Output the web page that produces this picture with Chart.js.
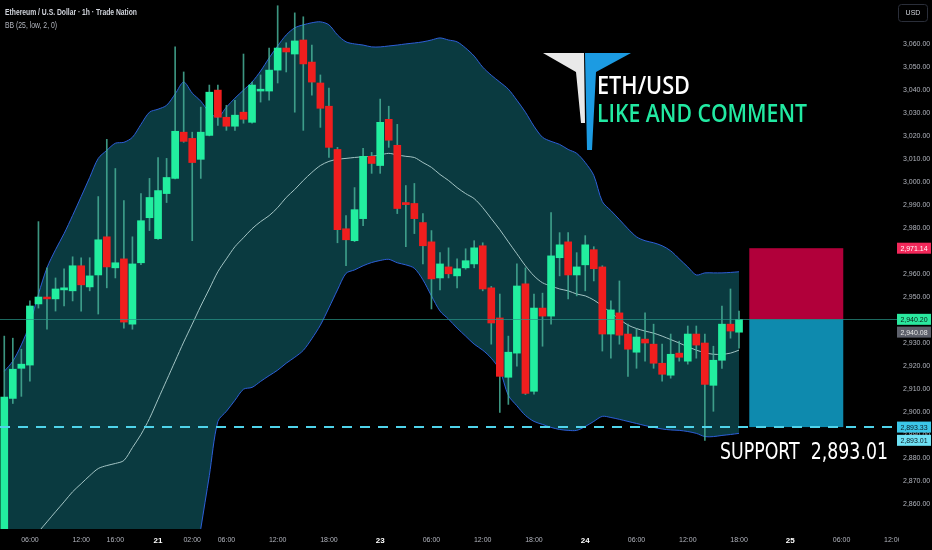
<!DOCTYPE html>
<html>
<head>
<meta charset="utf-8">
<title>ETH/USD 1h</title>
<script src="https://cdn.jsdelivr.net/npm/chart.js@4.4.1/dist/chart.umd.min.js"></script>
<style>
  html, body { margin: 0; padding: 0; background: #000; }
  #wrap { width: 932px; height: 550px; }
</style>
</head>
<body>
<div id="wrap"><canvas id="ethChart" width="932" height="550"></canvas></div>
<script>
// 1h candles
var open = [2842, 2905.8, 2918.9, 2920.3, 2946.9, 2949.9, 2949.1, 2953.0, 2952.6, 2963.5,
  2954.3, 2959.5, 2976.1, 2962.6, 2966.5, 2938.1, 2964.8, 2984.4, 2975.3, 2994.9,
  3001.5, 3021.6, 3018.9, 3009.8, 3020.2, 3039.9, 3028.1, 3024.2, 3030.3, 3025.9,
  3039.5, 3039.5, 3048.6, 3058.2, 3055.6, 3061.7, 3052.1, 3043.0, 3032.9, 3014.1,
  2979.6, 2974.4, 2984.0, 3011.1, 3007.1, 3027.2, 3015.9, 2991.0, 2990.6, 2982.3,
  2973.9, 2958.2, 2963.0, 2959.1, 2962.6, 2964.3, 2972.2, 2953.9, 2940.8, 2915.0,
  2925.5, 2955.6, 2908.9, 2945.1, 2941.6, 2967.0, 2973.9, 2959.5, 2963.9, 2970.5,
  2963.0, 2933.8, 2943.0, 2933.8, 2925.9, 2931.6, 2929.4, 2921.1, 2915.9, 2925.5,
  2922.0, 2933.8, 2929.9, 2911.5, 2922.4, 2938.1, 2934.6];
var high = [2932.9, 2932.0, 2927.2, 2948.2, 2982.7, 2962.6, 2958.2, 2962.2, 2967.4, 2967.0,
  2967.0, 2993.6, 3018.5, 3005.8, 2991.9, 2976.1, 2994.9, 3001.5, 3010.6, 3010.2,
  3058.7, 3047.8, 3021.6, 3032.5, 3042.1, 3042.1, 3033.3, 3035.5, 3055.6, 3043.4,
  3046.5, 3058.2, 3076.6, 3060.5, 3073.5, 3071.8, 3059.5, 3046.5, 3040.8, 3015.0,
  2985.3, 2997.5, 3014.6, 3012.8, 3036.0, 3032.9, 3025.0, 2998.4, 2999.3, 2986.2,
  2978.8, 2969.2, 2971.3, 2966.5, 2970.9, 2974.4, 2973.5, 2954.5, 2951.2, 2932.9,
  2964.3, 2962.6, 2951.2, 2951.6, 2986.6, 2977.9, 2977.9, 2969.2, 2976.6, 2971.8,
  2963.5, 2948.2, 2956.9, 2938.1, 2935.9, 2943.0, 2938.1, 2929.4, 2933.8, 2930.7,
  2937.3, 2937.3, 2933.8, 2928.5, 2946.0, 2953.4, 2943.8];
var low = [2838, 2903.6, 2906.7, 2913.3, 2945.1, 2935.9, 2943.8, 2946.0, 2948.2, 2943.8,
  2952.6, 2942.5, 2953.9, 2958.2, 2936.4, 2935.9, 2964.0, 2978.8, 2975.0, 2991.0,
  3001.3, 3017.2, 2974.4, 3001.5, 3020.0, 3024.6, 3022.4, 3022.4, 3025.5, 3025.5,
  3034.7, 3035.5, 3043.0, 3047.8, 3030.3, 3022.4, 3037.7, 3023.7, 3010.6, 2973.5,
  2963.5, 2974.0, 2980.9, 3003.7, 3003.7, 3015.0, 2986.2, 2971.8, 2977.5, 2964.3,
  2944.7, 2953.0, 2958.2, 2953.9, 2962.0, 2962.6, 2952.6, 2929.4, 2899.7, 2903.2,
  2919.8, 2907.5, 2907.6, 2928.5, 2938.1, 2959.1, 2949.1, 2950.4, 2952.6, 2956.9,
  2926.4, 2923.3, 2929.4, 2915.4, 2918.9, 2922.0, 2918.9, 2913.3, 2914.6, 2922.0,
  2920.7, 2923.3, 2887.5, 2900.2, 2918.9, 2932.0, 2927.7];
var close = [2906.4, 2918.5, 2920.7, 2946.0, 2949.9, 2949.1, 2953.4, 2953.9, 2963.5, 2955.2,
  2959.1, 2974.8, 2963.0, 2964.8, 2939.0, 2964.3, 2983.1, 2993.2, 2996.2, 3001.9,
  3022.0, 3017.6, 3008.4, 3021.6, 3039.0, 3028.1, 3024.2, 3029.0, 3027.2, 3042.1,
  3040.3, 3048.6, 3058.2, 3056.5, 3061.3, 3051.3, 3043.4, 3032.0, 3015.0, 2979.2,
  2974.8, 2987.9, 3011.1, 3008.0, 3025.9, 3018.1, 2988.4, 2990.1, 2984.0, 2972.2,
  2957.8, 2964.3, 2960.0, 2962.2, 2965.7, 2971.3, 2953.4, 2938.6, 2915.4, 2925.9,
  2954.7, 2908.0, 2945.1, 2941.6, 2967.8, 2972.6, 2959.5, 2963.0, 2972.6, 2962.2,
  2933.8, 2944.3, 2933.3, 2927.2, 2932.5, 2929.9, 2921.1, 2916.3, 2925.0, 2923.7,
  2933.8, 2929.0, 2911.9, 2922.4, 2938.1, 2935.1, 2940.2];

// Bollinger bands BB(25, low, 2, 0)
var bbUpper = [2917.6, 2922.0, 2929.1, 2938.3, 2951.2, 2962.6, 2970.5, 2977.5, 2985.4, 2993.6,
  3001.9, 3010.2, 3013.7, 3016.8, 3017.2, 3019.4, 3025.0, 3030.3, 3031.6, 3033.3,
  3038.2, 3043.4, 3038.6, 3035.1, 3030.3, 3028.1, 3032.5, 3036.4, 3039.9, 3043.4,
  3048.2, 3053.9, 3059.1, 3063.9, 3067.0, 3068.3, 3069.2, 3069.6, 3068.3, 3063.9,
  3060.9, 3060.0, 3059.5, 3058.7, 3058.7, 3059.1, 3059.5, 3060.0, 3060.4, 3060.9,
  3061.7, 3062.6, 3061.7, 3060.9, 3058.2, 3054.7, 3049.9, 3046.4, 3043.4, 3040.3,
  3035.5, 3030.3, 3024.2, 3019.4, 3017.6, 3016.3, 3014.1, 3012.4, 3008.4, 3002.8,
  2991.4, 2987.5, 2983.6, 2979.6, 2976.1, 2974.4, 2973.5, 2972.2, 2970.0, 2966.5,
  2963.0, 2959.5, 2960.4, 2960.4, 2960.4, 2960.6, 2960.9];
var bbBasis = [2822, 2829, 2836, 2843, 2847.7, 2852.1, 2856.5, 2860.8, 2865.2, 2868.7,
  2872.2, 2875.3, 2876.6, 2877.5, 2878.8, 2884.4, 2890.1, 2897.1, 2905.4, 2913.7,
  2922.0, 2930.3, 2938.1, 2946.0, 2953.4, 2960.9, 2966.5, 2971.8, 2975.7, 2979.6,
  2982.7, 2985.3, 2988.8, 2993.2, 2996.7, 3000.6, 3004.1, 3007.1, 3008.9, 3009.8,
  3010.2, 3010.6, 3010.9, 3011.1, 3011.7, 3012.4, 3011.7, 3011.1, 3010.6, 3008.4,
  3006.3, 3003.2, 3000.6, 2997.5, 2994.9, 2992.7, 2988.8, 2984.0, 2979.2, 2973.9,
  2968.7, 2963.5, 2959.1, 2956.1, 2954.7, 2953.4, 2952.6, 2951.2, 2950.4, 2948.6,
  2946.0, 2943.0, 2940.3, 2937.7, 2936.2, 2935.1, 2934.2, 2932.9, 2931.4, 2929.9,
  2928.3, 2926.8, 2925.7, 2925.0, 2925.0, 2925.5, 2926.8];
var bbLower = [2760, 2762, 2764, 2766, 2768, 2770, 2772, 2774, 2776, 2778,
  2780, 2782, 2784, 2786, 2788, 2790, 2792, 2795, 2798, 2802, 2806, 2812, 2826,
  2849.1, 2872.2, 2895.8, 2900.2, 2905.0, 2909.8, 2910.6, 2913.2, 2915.7, 2918.1,
  2921.1, 2923.7, 2926.7, 2931.8, 2937.7, 2945.2, 2953.0, 2960.2, 2961.7, 2963.5,
  2964.9, 2965.8, 2966.3, 2964.8, 2963.9, 2962.4, 2957.4, 2950.4, 2943.8, 2940.3,
  2936.4, 2932.9, 2929.4, 2926.8, 2923.3, 2918.1, 2907.1, 2902.6, 2898.4, 2895.8,
  2894.5, 2893.2, 2892.3, 2891.9, 2891.9, 2893.6, 2895.8, 2898.0, 2897.5, 2896.7,
  2895.8, 2894.9, 2894.0, 2893.2, 2892.5, 2892.1, 2891.9, 2891.4, 2890.6, 2889.2,
  2889.2, 2889.7, 2890.1, 2890.6];

// time axis: which hourly slot gets which label
var xTickIndex = [3, 9, 13, 18, 22, 26, 32, 38, 44, 50, 56, 62, 68, 74, 80, 86, 92, 98];
var xTickText = ['06:00', '12:00', '16:00', '21', '02:00', '06:00', '12:00', '18:00', '23',
  '06:00', '12:00', '18:00', '24', '06:00', '12:00', '18:00', '25', '06:00'];
var dayLabels = ['21', '23', '24', '25'];
var yTicks = [2860, 2870, 2880, 2890, 2900, 2910, 2920, 2930, 2940, 2950, 2960, 2970, 2980,
  2990, 3000, 3010, 3020, 3030, 3040, 3050, 3060];

// price levels
var lastPrice = 2940.20;
var prevPrice = 2940.08;
var targetPrice = 2971.14;
var supportLine = 2893.33;
var supportPrice = 2893.01;

var slotCount = 103;
var yMin = 2849, yMax = 3079.1;
var boxStart = 87.2, boxEnd = 98.2;   // in hourly slots

var GREEN = '#22ee9f', RED = '#f01e1e';
var axisFont = "'Liberation Sans', sans-serif";

var slots = [];
for (var i = 0; i < slotCount; i++) slots.push(i);

function fmt(v) {
  return v.toLocaleString('en-US', { minimumFractionDigits: 2, maximumFractionDigits: 2 });
}
function tickLabel(i) {
  var k = xTickIndex.indexOf(i);
  return k < 0 ? '' : xTickText[k];
}

var overlay = {
  id: 'overlay',
  afterDatasetsDraw: function (chart) {
    var ctx = chart.ctx, x = chart.scales.x, y = chart.scales.y, a = chart.chartArea;
    var bx0 = x.getPixelForValue(boxStart), bx1 = x.getPixelForValue(boxEnd);
    var yT = y.getPixelForValue(targetPrice), yL = y.getPixelForValue(lastPrice), yS = y.getPixelForValue(supportLine);
    ctx.save();
    // long position box
    ctx.fillStyle = '#b1003a';
    ctx.fillRect(bx0, yT, bx1 - bx0, yL - yT);
    ctx.fillStyle = '#0e8aae';
    ctx.fillRect(bx0, yL, bx1 - bx0, yS - yL);
    // last price line
    ctx.strokeStyle = 'rgba(40,150,135,0.7)';
    ctx.lineWidth = 1;
    ctx.beginPath();
    ctx.moveTo(a.left, Math.round(yL) + 0.5);
    ctx.lineTo(a.right + 17, Math.round(yL) + 0.5);
    ctx.stroke();
    // support dashed line
    ctx.strokeStyle = '#4fd3ea';
    ctx.lineWidth = 2;
    ctx.setLineDash([10, 8]);
    ctx.beginPath();
    ctx.moveTo(a.left, yS);
    ctx.lineTo(a.right + 15, yS);
    ctx.stroke();
    ctx.setLineDash([]);
    // support text
    ctx.fillStyle = '#ffffff';
    ctx.font = "23px 'DejaVu Sans', sans-serif";
    ctx.textBaseline = 'alphabetic';
    ctx.fillText('SUPPORT  ' + fmt(supportPrice), 720, 459, 168);
    ctx.restore();
  },
  afterDraw: function (chart) {
    var ctx = chart.ctx, x = chart.scales.x, y = chart.scales.y, a = chart.chartArea;
    ctx.save();
    // header
    ctx.textBaseline = 'middle';
    ctx.fillStyle = '#d1d4dc';
    ctx.font = "bold 9px 'Liberation Sans', sans-serif";
    ctx.fillText('Ethereum / U.S. Dollar \u00b7 1h \u00b7 Trade Nation', 5, 13, 132);
    ctx.fillStyle = '#b2b5be';
    ctx.font = "9px 'Liberation Sans', sans-serif";
    ctx.fillText('BB (25, low, 2, 0)', 5, 26, 52);

    // logo
    ctx.fillStyle = '#e9e9e9';
    ctx.beginPath();
    ctx.moveTo(543, 53); ctx.lineTo(584, 53); ctx.lineTo(585, 123); ctx.lineTo(581, 123); ctx.lineTo(576, 72);
    ctx.closePath(); ctx.fill();
    ctx.fillStyle = '#1c9be2';
    ctx.beginPath();
    ctx.moveTo(585, 53); ctx.lineTo(631, 53); ctx.lineTo(596, 72); ctx.lineTo(592, 150); ctx.lineTo(587, 150);
    ctx.closePath(); ctx.fill();
    ctx.textBaseline = 'alphabetic';
    ctx.fillStyle = '#ffffff';
    ctx.font = "600 26px 'Open Sans', sans-serif";
    ctx.fillText('ETH/USD', 597, 94, 93);
    ctx.fillStyle = '#22e9a2';
    ctx.font = "600 25px 'Open Sans', sans-serif";
    ctx.fillText('LIKE AND COMMENT', 597, 122, 210);

    // USD button
    ctx.strokeStyle = '#2a2e39';
    ctx.lineWidth = 1;
    ctx.beginPath();
    ctx.roundRect(898.5, 4.5, 29, 17, 3);
    ctx.stroke();
    ctx.fillStyle = '#d1d4dc';
    ctx.font = '7px ' + axisFont;
    ctx.textAlign = 'center';
    ctx.textBaseline = 'middle';
    ctx.fillText('USD', 913, 13);

    // price tags on the right scale
    var tags = [
      { v: targetPrice, bg: '#f2285a', fg: '#ffffff', dy: 0 },
      { v: lastPrice, bg: '#2ae89e', fg: '#0b1f18', dy: 0 },
      { v: prevPrice, bg: '#5d606b', fg: '#e6e6e6', dy: 12.5 },
      { v: supportLine, bg: '#3cc7e8', fg: '#0b1a24', dy: 0 },
      { v: supportPrice, bg: '#6fe2f5', fg: '#0b1a24', dy: 12.5 }
    ];
    tags.forEach(function (t) {
      var py = y.getPixelForValue(t.v) + t.dy;
      ctx.fillStyle = t.bg;
      ctx.fillRect(897, py - 5.5, 34, 11);
      ctx.fillStyle = t.fg;
      ctx.fillText(fmt(t.v), 914, py + 0.5, 31);
    });

    // cut-off time label at the right edge
    ctx.beginPath();
    ctx.rect(a.right, a.bottom, 19, 21);
    ctx.clip();
    ctx.fillStyle = '#b2b5be';
    ctx.font = '7px ' + axisFont;
    ctx.fillText('12:00', x.getPixelForValue(104), 540);
    ctx.restore();
  }
};

document.addEventListener('DOMContentLoaded', function () {
  var ctx = document.getElementById('ethChart').getContext('2d');
  var bodyColors = open.map(function (o, i) { return close[i] >= o ? GREEN : RED; });

  new Chart(ctx, {
    type: 'bar',
    data: {
      labels: slots,
      datasets: [
        {
          type: 'line', label: 'upper', data: bbUpper, order: 3,
          borderColor: '#2d5fd8', borderWidth: 1, pointRadius: 0, tension: 0.3, fill: false
        },
        {
          type: 'line', label: 'lower', data: bbLower, order: 4,
          borderColor: '#2d5fd8', borderWidth: 1, pointRadius: 0, tension: 0.3,
          fill: '-1', backgroundColor: '#0a3a40'
        },
        {
          type: 'line', label: 'basis', data: bbBasis, order: 2,
          borderColor: '#a3c4c4', borderWidth: 1, pointRadius: 0, tension: 0.3, fill: false
        },
        {
          label: 'wicks', order: 1, grouped: false, barThickness: 1,
          data: low.map(function (l, i) { return [l, high[i]]; }),
          backgroundColor: 'rgba(70,175,150,0.85)'
        },
        {
          label: 'bodies', order: 0, grouped: false, barThickness: 7, minBarLength: 1,
          data: open.map(function (o, i) { return [o, close[i]]; }),
          backgroundColor: bodyColors
        }
      ]
    },
    options: {
      responsive: false,
      animation: false,
      layout: { padding: 0 },
      plugins: { legend: { display: false }, tooltip: { enabled: false } },
      scales: {
        x: {
          type: 'category',
          offset: true,
          grid: { display: false, drawTicks: false },
          border: { display: false },
          ticks: {
            autoSkip: false,
            maxRotation: 0,
            padding: 7,
            callback: function (v, i) { return tickLabel(i); },
            color: function (c) { return dayLabels.indexOf(tickLabel(c.index)) >= 0 ? '#ffffff' : '#b2b5be'; },
            font: function (c) {
              return dayLabels.indexOf(tickLabel(c.index)) >= 0
                ? { family: axisFont, size: 8, weight: 'bold' }
                : { family: axisFont, size: 7 };
            }
          },
          afterFit: function (s) { s.height = 21; s.paddingLeft = 0; s.paddingRight = 0; }
        },
        y: {
          position: 'right',
          min: yMin,
          max: yMax,
          grid: { display: false, drawTicks: false },
          border: { display: false },
          afterBuildTicks: function (s) { s.ticks = yTicks.map(function (v) { return { value: v }; }); },
          ticks: {
            padding: 23,
            color: '#b2b5be',
            font: { family: axisFont, size: 7 },
            callback: function (v) { return fmt(v); }
          },
          afterFit: function (s) { s.width = 52; s.paddingTop = 0; s.paddingBottom = 0; }
        }
      }
    },
    plugins: [overlay]
  });
});
</script>
</body>
</html>
